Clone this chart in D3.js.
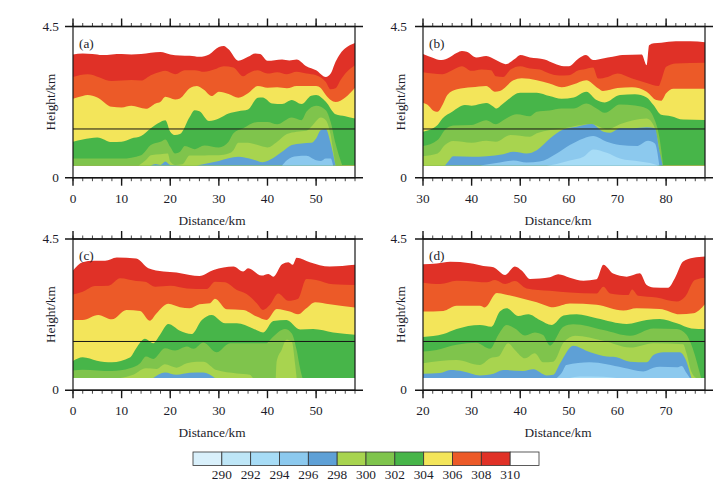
<!DOCTYPE html>
<html><head><meta charset="utf-8">
<script src="https://cdn.jsdelivr.net/npm/d3@7"></script>
<style>html,body{margin:0;padding:0;background:#fff}svg{display:block}text{font-family:"Liberation Serif",serif;fill:#1c1c2a}</style>
</head><body><svg id="c" width="725" height="486"></svg>
<script>
const maxHeight = 4.5, groundHeight = 0.36, refHeight = 1.45;
const legendLabels = [290,292,294,296,298,300,302,304,306,308,310];
const C = {lightest:"#d9f0fb", pale:"#bee6f7", sky1:"#a7dcf6", sky2:"#8cc9ee", blue:"#5ea0d6", lime:"#a8d44f", mid:"#7fc44c", green:"#47b549", yellow:"#f3e55a", orange:"#ec5a28", red:"#e03127", white:"#ffffff"};
const legendColors = [C.lightest,C.pale,C.sky1,C.sky2,C.blue,C.lime,C.mid,C.green,C.yellow,C.orange,C.red,C.white];

// Panel (a): contour tops, [distance km, height km]
const a_red = [[0,3.67],[2,3.70],[4,3.68],[6,3.65],[8,3.67],[10,3.68],[12,3.67],[14,3.68],[16,3.72],[18,3.74],[20,3.67],[22,3.64],[24,3.63],[26,3.60],[28,3.67],[30,3.89],[31,3.92],[32,3.82],[34,3.48],[36,3.60],[37.5,3.70],[38.5,3.68],[40,3.48],[43,3.52],[44.5,3.49],[46,3.52],[48,3.32],[50,3.20],[52,3.00],[53,3.10],[54,3.45],[55,3.70],[56,3.85],[58,4.01]];
const a_orange = [[0,3.00],[3,3.08],[8,2.88],[12,2.91],[14,2.89],[16,3.05],[18,3.15],[19,3.18],[21,3.08],[23,3.20],[25,3.20],[27,3.15],[29,3.22],[31,3.32],[33,3.28],[35,3.02],[36,3.10],[38,3.20],[40,3.10],[42,3.14],[44,3.08],[46,3.15],[48,3.10],[50,3.05],[52,2.85],[53,2.63],[54,2.66],[55,2.90],[56,3.10],[58,3.35]];
const a_yellow = [[0,2.35],[2,2.43],[3,2.46],[5,2.39],[8,2.11],[10,2.09],[12,2.14],[15,2.05],[17,2.21],[18,2.26],[19,2.41],[21,2.33],[22,2.36],[24,2.66],[25.5,2.73],[27,2.61],[28.5,2.43],[30,2.56],[32,2.49],[34,2.38],[36,2.51],[38,2.73],[40,2.68],[42,2.69],[44,2.66],[46,2.73],[50,2.73],[51,2.66],[52,2.46],[53,2.31],[54,2.25],[55,2.29],[56,2.39],[58,2.68]];
const a_green = [[0,1.07],[2,1.14],[5,1.20],[8,1.06],[10,1.07],[12,1.17],[14,1.24],[16,1.47],[18,1.66],[19,1.71],[20,1.37],[21,1.27],[22,1.30],[24,1.81],[25,2.01],[26,1.98],[28,1.69],[29,1.71],[30,1.76],[32,1.91],[34,1.98],[36,2.03],[38,2.38],[39,2.39],[41,2.21],[43,2.19],[45,2.31],[47,2.19],[49,2.44],[50,2.46],[52,2.26],[54,1.89],[56,1.83],[58,1.76]];
const a_mid = [[0,0.57],[5,0.57],[10,0.57],[14,0.67],[16,0.97],[18,1.07],[19,1.14],[20,0.92],[21,0.72],[22,0.77],[23,0.94],[25,0.85],[27,0.96],[30,0.90],[32,1.07],[33,1.32],[35,1.47],[38,1.66],[40,1.66],[42,1.59],[45,1.79],[47,1.71],[48,1.96],[50,2.14],[52,2.01],[53,1.66],[54,1.02],[55,0.53],[55.4,0.36]];
const a_lime = [[13.5,0.36],[15,0.53],[16,0.67],[18,0.70],[19.5,0.72],[20,0.48],[21,0.38],[22.5,0.40],[24,0.66],[26,0.66],[28,0.67],[30,0.67],[32,0.72],[33,0.82],[34,1.04],[36,1.04],[38,0.97],[40,0.90],[42,1.07],[44,1.30],[46,1.37],[48,1.40],[49,1.52],[51,1.79],[52,1.71],[53,1.27],[53.5,0.82],[54,0.36]];
const a_blue = [[16,0.36],[17,0.41],[18,0.38],[19,0.48],[20,0.38],[25,0.36],[27,0.41],[30,0.50],[34,0.62],[37,0.54],[39,0.46],[41,0.57],[43,0.77],[45,0.97],[47,1.02],[49,1.04],[50,1.17],[51,1.42],[52,1.44],[53,1.02],[54,0.36]];
const a_sky = [[43,0.36],[44,0.52],[46,0.64],[48,0.65],[50,0.52],[51,0.50],[52,0.57],[53,0.57],[53.5,0.36]];

// Panel (b)
const b_red = [[30,3.68],[32,3.57],[33.5,3.50],[35,3.55],[37,3.72],[38,3.77],[39,3.75],[41,3.58],[43,3.62],[45,3.50],[47,3.38],[49,3.55],[50,3.65],[52,3.58],[55,3.52],[57,3.40],[59,3.32],[60,3.32],[62,3.55],[63.5,3.65],[65,3.50],[67,3.55],[69,3.60],[71,3.65],[75,3.67],[76,3.35],[76.5,3.94],[77.5,4.00],[79,4.02],[82,4.06],[85,4.06],[88,4.03]];
const b_orange = [[30,3.14],[32,3.10],[34,3.08],[36,3.20],[38,3.32],[40,3.18],[42,3.22],[44,3.20],[45,3.02],[46.5,3.00],[48,3.22],[50,3.32],[52,3.25],[54,3.22],[56,3.10],[58,3.04],[60,3.05],[62,3.20],[63,3.22],[65,3.28],[66,2.95],[68,3.00],[70,3.10],[73,2.95],[76,2.82],[78.5,2.73],[79,2.90],[80,3.30],[82,3.40],[88,3.42]];
const b_yellow = [[30,2.23],[31,2.16],[32,2.01],[33,1.96],[34,2.16],[35,2.46],[37,2.63],[40,2.69],[43,2.73],[44.8,2.56],[45.8,2.58],[48.6,2.90],[50.3,2.96],[53.4,2.90],[56,2.80],[58.5,2.69],[61,2.78],[63.6,2.90],[66,2.66],[67,2.58],[70,2.67],[73,2.69],[76,2.56],[78,2.31],[79,2.29],[80,2.51],[81.5,2.65],[88,2.65]];
const b_green = [[30,1.37],[33,1.57],[34,1.76],[36,1.96],[38.6,2.16],[40,2.14],[43,2.22],[44.5,2.11],[45,2.06],[46.5,2.21],[50,2.53],[53.4,2.53],[56,2.43],[58.5,2.35],[61,2.39],[63.6,2.56],[65.7,2.31],[67.4,2.24],[70.5,2.46],[73.6,2.48],[76,2.39],[77.4,2.16],[79,1.87],[81,1.83],[83.5,1.73],[88,1.72]];
const b_mid = [[30,0.94],[33,1.12],[34.5,1.42],[36.2,1.55],[40,1.57],[43,1.71],[45,1.59],[46.5,1.71],[49.3,1.89],[52,1.83],[53.4,1.96],[56,2.0],[58.5,2.06],[61,2.06],[63.6,2.21],[65.7,2.06],[67.4,1.93],[70.5,2.18],[73.6,2.15],[76,2.06],[77.4,1.81],[78.6,1.22],[79.4,0.36]];
const b_lime = [[30,0.64],[33,0.72],[34.5,0.97],[36.2,1.09],[40,1.04],[43,1.10],[45,1.07],[48,1.27],[52,1.22],[53.4,1.32],[59,1.47],[64.5,1.60],[68,1.44],[70.5,1.59],[76,1.76],[77.4,1.57],[78.4,1.02],[79,0.36]];
const b_blue = [[34.5,0.36],[35.2,0.48],[36.2,0.64],[40,0.62],[43.1,0.64],[46.5,0.70],[48.6,0.77],[51.3,0.72],[53.4,0.82],[56.1,1.17],[58.9,1.44],[61.6,1.52],[64.7,1.60],[67.1,1.37],[68.5,1.34],[70.5,1.47],[73.2,1.47],[76,1.50],[77.7,1.47],[78.6,0.82],[79.3,0.36]];
const b_sky = [[41.7,0.36],[45.8,0.45],[48.6,0.51],[51.3,0.45],[54,0.48],[57.5,0.72],[60.2,0.97],[63,1.17],[65,1.24],[67.8,1.07],[70.5,0.97],[73.9,0.94],[76.3,1.10],[77.7,1.02],[78.6,0.36]];
const b_pale = [[55.4,0.36],[57.5,0.41],[60.2,0.51],[63,0.62],[65,0.84],[67.8,0.74],[70.5,0.57],[74.6,0.48],[77.4,0.41],[78.4,0.36]];

// Panel (c)
const c_red = [[0,3.56],[2,3.81],[4.2,3.85],[6.6,3.85],[9,3.95],[13,3.92],[15.5,3.63],[18.6,3.53],[21.3,3.50],[24,3.43],[26,3.40],[28.9,3.58],[33,3.68],[35,3.53],[36,3.63],[38.8,3.41],[40.2,3.46],[41.2,3.38],[43,3.75],[44.3,3.81],[45.2,3.73],[46,3.94],[48.7,3.81],[52.8,3.68],[58,3.73]];
const c_orange = [[0,2.85],[2,2.93],[4.5,3.10],[7.3,3.11],[9.7,3.33],[13,3.25],[14.8,3.23],[16.9,3.08],[20,3.11],[23.4,3.03],[27.5,3.01],[29.2,3.23],[31.3,3.21],[33.7,2.98],[35.7,2.86],[37.8,2.59],[39.1,2.39],[40.5,2.54],[42.2,2.88],[44.3,2.66],[46.3,2.72],[48,3.31],[50,3.28],[53.5,3.15],[58,3.13]];
const c_yellow = [[0,2.09],[2,2.09],[5.2,2.24],[8,2.11],[11,2.39],[13.8,2.36],[15.8,2.07],[17.2,2.29],[19.6,2.57],[22,2.47],[24,2.44],[26,2.56],[28.2,2.59],[29.2,2.72],[31.6,2.41],[35,2.39],[37.8,2.19],[39.8,2.09],[41.9,2.42],[44.6,2.34],[46.3,2.26],[48,2.44],[49.8,2.62],[52.8,2.56],[58,2.46]];
const c_green = [[0,0.87],[2,0.98],[4.9,0.88],[8,0.83],[11.7,0.97],[13,1.25],[14.8,1.53],[16.5,1.40],[17.9,1.65],[19.6,1.97],[22,1.77],[24.4,1.67],[26.5,2.09],[28.5,2.24],[31.3,1.99],[33.7,1.99],[37,1.84],[39.1,1.72],[41.2,2.06],[43.9,2.09],[46.7,1.81],[49.4,1.82],[53.5,1.72],[58,1.65]];
const c_mid = [[0,0.59],[2,0.61],[8,0.57],[11.7,0.65],[13.8,0.80],[15,1.00],[16.5,0.93],[18.9,1.25],[21,1.18],[23.4,1.30],[24.8,1.23],[26.8,1.42],[29.5,1.13],[32.3,1.40],[39.8,1.40],[40.9,1.55],[43.6,1.82],[45,1.69],[46,1.20],[46.7,0.65],[47.2,0.36]];
const c_limeLeft = [[9.7,0.36],[12.4,0.46],[15,0.65],[17.2,0.63],[18.9,0.77],[21.3,0.67],[23.4,0.80],[25.4,0.85],[26.8,0.85],[29.5,0.60],[33.7,0.50],[36.4,0.46],[37,0.36]];
const c_limeRight = [[41.7,0.36],[41.9,0.87],[42.9,1.20],[43.9,1.50],[45,1.45],[45.7,0.75],[46,0.36]];
const c_blue = [[16.5,0.36],[18.9,0.53],[21.3,0.46],[24,0.52],[26.8,0.53],[29.2,0.36]];

// Panel (d)
const d_red = [[20,3.75],[22.8,3.77],[25.6,3.82],[29.7,3.78],[32.4,3.70],[34.5,3.66],[36.9,3.43],[38.9,3.68],[40.3,3.56],[42,3.31],[46.1,3.36],[47.8,3.45],[50.2,3.35],[53,3.26],[55.7,3.30],[57.1,3.73],[59.1,3.47],[61.9,3.38],[64.6,3.48],[66,3.13],[67.4,3.06],[70.4,3.05],[71.8,3.33],[73.5,3.83],[75.6,3.94],[78,3.98]];
const d_orange = [[20,3.20],[23.5,3.16],[26.9,3.26],[31,3.23],[33.1,3.21],[34.8,3.28],[36.9,3.16],[38.9,3.25],[41.3,3.03],[46.1,2.96],[50.2,2.91],[55.7,2.88],[57.1,3.08],[58.5,2.88],[62.2,2.83],[63,3.00],[64.3,2.81],[68,2.76],[72.2,2.64],[73.9,2.78],[75.9,3.28],[78,3.35]];
const d_yellow = [[20,2.34],[24.2,2.36],[26.9,2.51],[31.7,2.51],[32.7,2.46],[35.2,2.89],[36.9,2.85],[40.6,2.72],[43.4,2.62],[46.8,2.47],[50.2,2.58],[55.7,2.54],[61.2,2.37],[63.9,2.44],[68.7,2.42],[72.8,2.26],[75.6,2.29],[78,2.56]];
const d_green = [[20,1.58],[24.2,1.67],[26.9,1.82],[31.7,1.94],[34.1,1.89],[35.8,2.34],[37.2,2.44],[39.6,2.21],[41.7,2.26],[44,2.09],[46.5,1.94],[48.9,2.22],[51.6,2.26],[55.7,2.14],[61.9,1.97],[66,2.09],[68.7,2.12],[72.2,1.99],[75.2,1.84],[78,1.82]];
const d_mid = [[20,1.15],[22.8,1.20],[26.9,1.35],[31,1.41],[33.8,1.23],[35.5,1.65],[37.2,1.94],[38.9,1.84],[41,1.63],[43,1.72],[44.7,1.64],[46.1,1.33],[48.9,1.89],[50.9,1.96],[57.1,1.79],[62.6,1.62],[67.4,1.84],[72.2,1.82],[74.2,1.65],[75.2,1.35],[77.2,0.36]];
const d_lime = [[20,0.80],[23.5,0.87],[26.9,0.90],[31.7,0.75],[33.8,0.95],[35.5,1.00],[37.5,1.40],[38.9,1.20],[41,0.95],[43,1.10],[44.7,0.83],[46.8,0.85],[48.9,1.42],[51.3,1.62],[57.1,1.47],[62.6,1.27],[67.4,1.40],[73.5,1.37],[74.2,1.10],[75.2,0.55],[76.2,0.36]];
const d_blue = [[20,0.49],[23.5,0.51],[25.6,0.60],[28.3,0.56],[31.7,0.44],[34.5,0.49],[36.5,0.60],[40.6,0.57],[42.7,0.62],[45.4,0.44],[46.8,0.46],[48.2,0.80],[50.9,1.32],[53.7,1.17],[57.1,1.02],[59.8,0.98],[62.6,0.85],[66,0.83],[67.4,1.05],[69.4,1.13],[72.8,1.13],[74.2,0.85],[75.2,0.36]];
const d_sky = [[47.5,0.36],[48.5,0.51],[49.5,0.75],[54.3,0.83],[61.2,0.67],[65.3,0.56],[67.4,0.67],[68.7,0.70],[72.2,0.68],[73.2,0.72],[74.2,0.51],[74.9,0.36]];
const d_pale = [[50.2,0.36],[52.2,0.41],[57.1,0.40],[59.8,0.36]];

const panels = [
 {name:"(a)", left:73, top:26.5, yLab:-14, xTitle:139, dom:[0,58], ticks:[0,10,20,30,40,50], layers:[[a_red,C.red],[a_orange,C.orange],[a_yellow,C.yellow],[a_green,C.green],[a_mid,C.mid],[a_lime,C.lime],[a_blue,C.blue],[a_sky,C.sky2]]},
 {name:"(b)", left:423, top:26.5, yLab:-16, xTitle:135, dom:[30,88], ticks:[30,40,50,60,70,80], layers:[[b_red,C.red],[b_orange,C.orange],[b_yellow,C.yellow],[b_green,C.green],[b_mid,C.mid],[b_lime,C.lime],[b_blue,C.blue],[b_sky,C.sky2],[b_pale,C.sky1]]},
 {name:"(c)", left:73, top:239, yLab:-14, xTitle:139, dom:[0,58], ticks:[0,10,20,30,40,50], layers:[[c_red,C.red],[c_orange,C.orange],[c_yellow,C.yellow],[c_green,C.green],[c_mid,C.mid],[c_limeLeft,C.lime],[c_limeRight,C.lime],[c_blue,C.blue]]},
 {name:"(d)", left:423, top:239, yLab:-16, xTitle:135, dom:[20,78], ticks:[20,30,40,50,60,70], layers:[[d_red,C.red],[d_orange,C.orange],[d_yellow,C.yellow],[d_green,C.green],[d_mid,C.mid],[d_lime,C.lime],[d_blue,C.blue],[d_sky,C.sky2],[d_pale,C.sky1]]}
];
const W=282, H=151.2, ink="#161616", fs=13.3;
const svg=d3.select("#c");
panels.forEach((p,i)=>{
  const g=svg.append("g").attr("transform",`translate(${p.left},${p.top})`);
  const x=d3.scaleLinear().domain(p.dom).range([0,W]);
  const y=d3.scaleLinear().domain([0,maxHeight]).range([H,0]);
  const area=d3.area().x(d=>x(d[0])).y0(y(groundHeight)).y1(d=>y(d[1])).curve(d3.curveMonotoneX);
  g.selectAll("path.l").data(p.layers).join("path").attr("class","l").attr("d",d=>area(d[0])).attr("fill",d=>d[1]);
  g.append("line").attr("x1",0).attr("x2",W).attr("y1",y(refHeight)).attr("y2",y(refHeight)).attr("stroke",ink).attr("stroke-width",1);
  g.append("text").attr("x",6).attr("y",21).attr("font-size",fs).text(p.name);
  const minor=d3.range(p.dom[0],p.dom[1]+0.01,2);
  const major=d3.range(p.dom[0],p.dom[1]+0.01,10);
  const drawTicks=(vals,y0,y1,w)=>g.append("g").selectAll("line").data(vals).join("line").attr("x1",d=>x(d)).attr("x2",d=>x(d)).attr("y1",y0).attr("y2",y1).attr("stroke",ink).attr("stroke-width",w);
  drawTicks(minor,0,-3.5,0.8); drawTicks(major,0,-8,1.4);
  drawTicks(minor,H,H+3.5,0.8); drawTicks(major,H,H+8,1.4);
  g.append("rect").attr("width",W).attr("height",H).attr("fill","none").attr("stroke",ink).attr("stroke-width",1.2);
  [0,maxHeight].forEach(v=>g.append("line").attr("x1",-8).attr("x2",W+8).attr("y1",y(v)).attr("y2",y(v)).attr("stroke",ink).attr("stroke-width",1.5));
  g.selectAll("text.xl").data(p.ticks).join("text").attr("class","xl").attr("x",d=>x(d)).attr("y",H+25).attr("text-anchor","middle").attr("font-size",fs).text(d=>d);
  [[0,"0"],[maxHeight,"4.5"]].forEach(([v,t])=>g.append("text").attr("x",p.yLab).attr("y",y(v)+4).attr("text-anchor","end").attr("font-size",fs).text(t));
  g.append("text").attr("x",p.xTitle).attr("y",H+47).attr("text-anchor","middle").attr("font-size",fs).text("Distance/km");
  g.append("text").attr("transform",`translate(-18,${H/2}) rotate(-90)`).attr("text-anchor","middle").attr("font-size",fs).text("Height/km");
});
// legend
const lx=d3.scaleLinear().domain([0,12]).range([193,539]);
const lg=svg.append("g");
lg.selectAll("rect").data(legendColors).join("rect").attr("x",(d,i)=>lx(i)).attr("y",452).attr("width",lx(1)-lx(0)).attr("height",13.5).attr("fill",d=>d).attr("stroke","#333").attr("stroke-width",0.8);
lg.selectAll("text").data(legendLabels).join("text").attr("x",(d,i)=>lx(i+1)).attr("y",479).attr("text-anchor","middle").attr("font-size",fs).text(d=>d);
</script></body></html>
